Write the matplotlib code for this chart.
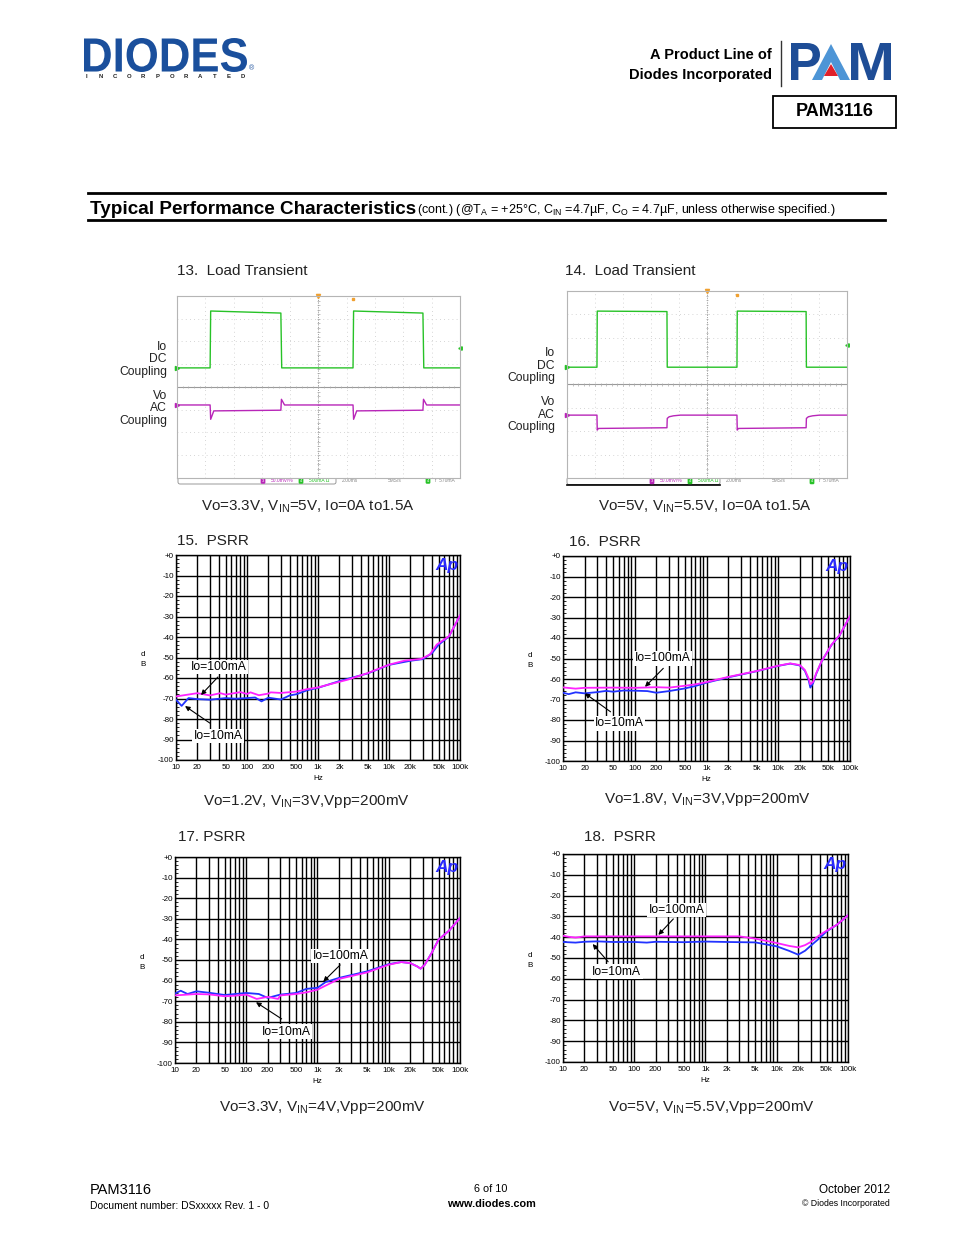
#!/usr/bin/env python3
"""PAM3116 datasheet page 6: load transient and PSRR curves"""
import numpy as np
import matplotlib
matplotlib.use('Agg')
import matplotlib.pyplot as plt
from matplotlib.textpath import TextPath
from matplotlib.patches import PathPatch, Polygon, FancyBboxPatch
from matplotlib.transforms import Affine2D
from matplotlib.font_manager import FontProperties
from matplotlib.ticker import LogLocator, MultipleLocator, NullFormatter

W, H = 954, 1235

plt.rcParams['font.family'] = ['Liberation Sans', 'DejaVu Sans']
plt.rcParams['mathtext.fontset'] = 'custom'
plt.rcParams['mathtext.rm'] = 'Liberation Sans'
plt.rcParams['mathtext.bf'] = 'Liberation Sans:bold'
plt.rcParams['mathtext.default'] = 'regular'

# ---- scope traces (time in divisions, level in divisions) ----
io13_t = [0, 1.17, 1.19, 3.67, 3.70, 6.22, 6.24, 8.69, 8.72, 10]
io13_v = [4.84, 4.84, 7.34, 7.25, 4.84, 4.84, 7.34, 7.25, 4.84, 4.84]
vo13_t = [0, 1.17, 1.19, 1.30, 3.67, 3.69, 3.80, 6.22, 6.24, 6.35,
          8.69, 8.71, 8.82, 10]
vo13_v = [3.21, 3.21, 2.58, 2.95, 2.98, 3.46, 3.21, 3.21, 2.58, 2.95,
          2.98, 3.46, 3.21, 3.21]

io14_t = [0, 1.07, 1.08, 3.57, 3.58, 6.07, 6.08, 8.54, 8.55, 10]
io14_v = [4.74, 4.74, 7.14, 7.12, 4.74, 4.74, 7.14, 7.12, 4.74, 4.74]
vo14_t = [0, 1.07, 1.08, 1.12, 3.57, 3.58, 3.65, 3.80, 4.05, 6.07, 6.08,
          6.12, 8.54, 8.55, 8.62, 8.77, 9.02, 10]
vo14_v = [2.69, 2.69, 2.05, 2.12, 2.15, 2.55, 2.62, 2.66, 2.69, 2.69, 2.05,
          2.12, 2.15, 2.55, 2.62, 2.66, 2.69, 2.69]

# ---- PSRR curves (Hz, dB) ----
f15_m = [10, 20, 30, 42, 50, 81, 100, 112, 147, 200, 216, 300, 500, 710,
         1000, 1530, 2630, 5000, 10000, 16700, 28500, 37700, 47000, 70000,
         100000]
db15_m = [-69.0, -67.4, -68.5, -67.4, -68.1, -66.9, -67.8, -67.0, -68.4,
          -67.6, -67.0, -67.3, -66.6, -65.4, -64.6, -62.9, -60.8, -57.6,
          -53.5, -51.5, -50.7, -48.5, -43.7, -39.6, -29.5]
f15_b = [10, 12, 15, 20, 30, 50, 70, 100, 130, 160, 200, 300, 400, 500, 700,
         1000, 2000, 5000, 10000, 20000, 30000, 40000, 50000, 70000, 100000]
db15_b = [-70.6, -73.6, -69.8, -70.3, -70.6, -69.8, -70.1, -69.8, -69.5,
          -71.4, -69.6, -70.5, -68.5, -67.9, -66.0, -64.8, -61.5, -57.8,
          -53.6, -51.6, -50.8, -48.0, -43.8, -39.7, -29.6]

f16_m = [10, 15, 20, 50, 100, 200, 300, 500, 700, 1000, 2000, 5000, 10000,
         14700, 20000, 23500, 26500, 28000, 30600, 33800, 40000, 55000,
         72000, 100000]
db16_m = [-64.1, -64.7, -64.3, -64.2, -64.3, -64.0, -64.2, -63.3, -62.6,
          -61.5, -59.0, -56.1, -53.5, -52.4, -53.2, -55.6, -59.7, -62.6,
          -61.4, -57.2, -51.5, -43.4, -38.5, -29.3]
f16_b = [10, 12, 15, 20, 30, 40, 50, 70, 100, 150, 200, 300, 500, 700, 1000,
         2000, 5000, 10000, 14700, 20000, 23500, 26500, 28000, 30600, 33800,
         40000, 55000, 72000, 100000]
db16_b = [-66.7, -67.4, -66.5, -67.0, -66.4, -65.8, -66.2, -65.6, -65.7,
          -65.9, -66.7, -65.9, -64.6, -63.4, -61.8, -59.2, -56.2, -53.6,
          -52.5, -53.4, -56.0, -60.5, -64.2, -62.0, -57.5, -51.6, -43.5,
          -38.6, -29.4]

f17_m = [10, 20, 30, 50, 70, 100, 140, 200, 280, 300, 500, 700, 1000, 2000,
         5000, 10000, 15000, 20000, 25000, 28000, 32000, 40000, 50000, 70000,
         100000]
db17_m = [-67.2, -66.5, -66.7, -67.6, -67.3, -66.8, -68.9, -67.9, -68.9,
          -67.2, -66.5, -65.7, -64.4, -59.2, -56.0, -52.3, -51.0, -51.5,
          -53.1, -54.2, -52.3, -46.6, -40.1, -35.8, -29.6]
f17_b = [10, 12, 15, 20, 30, 50, 70, 100, 150, 200, 300, 500, 700, 1000, 1300,
         2000, 5000, 10000, 15000, 20000, 25000, 28000, 32000, 40000, 50000,
         70000, 100000]
db17_b = [-66.3, -64.9, -66.5, -65.2, -65.9, -67.0, -66.5, -66.0, -66.5,
          -68.4, -66.8, -66.0, -64.0, -63.5, -60.7, -58.7, -55.5, -52.0,
          -51.0, -51.5, -53.1, -54.2, -52.3, -46.6, -40.1, -35.8, -29.6]

f18_m = [10, 12, 15, 20, 50, 100, 200, 500, 1000, 3000, 5000, 10000, 15000,
         20000, 25000, 30000, 40000, 50000, 70000, 100000]
db18_m = [-39.3, -39.8, -40.2, -39.6, -39.6, -39.6, -39.6, -39.6, -39.6,
          -39.6, -40.7, -42.8, -44.2, -44.9, -43.8, -42.3, -39.0, -36.9,
          -34.0, -29.5]
f18_b = [10, 15, 20, 30, 50, 100, 150, 200, 500, 1000, 2000, 5000, 10000,
         15000, 20000, 25000, 30000, 40000, 50000, 70000, 100000]
db18_b = [-42.3, -42.6, -42.2, -42.0, -42.3, -42.3, -42.6, -42.2, -42.4,
          -42.1, -42.3, -42.5, -44.4, -46.6, -48.4, -46.5, -44.1, -40.4,
          -37.2, -34.0, -29.5]

hz_ticks = [10, 20, 50, 100, 200, 500, 1e3, 2e3, 5e3, 1e4, 2e4, 5e4, 1e5]
hz_labels = ['10', '20', '50', '100', '200', '500', '1k', '2k', '5k', '10k',
             '20k', '50k', '100k']
db_ticks = list(range(-100, 1, 10))
db_labels = ['-100', '-90', '-80', '-70', '-60', '-50', '-40', '-30', '-20',
             '-10', '+0']

GREEN = '#27c227'
PURPLE = '#b826b8'
PSRR_M = '#ff22ff'
PSRR_B = '#2233ff'
DBLUE = '#1a4f9c'


def px(x0, y0, x1, y1):
    """Pixel box (y down) to figure fraction rectangle"""
    return [x0 / W, 1 - y1 / H, (x1 - x0) / W, (y1 - y0) / H]


fig = plt.figure(figsize=(W / 100, H / 100), dpi=100)
page = fig.add_axes([0, 0, 1, 1])
page.set_xlim(0, W)
page.set_ylim(H, 0)
page.axis('off')


def glyph(s, box, color):
    """Draw a text string stretched to fill a pixel box"""
    tp = TextPath((0, 0), s, size=100,
                  prop=FontProperties(family='Liberation Sans',
                                      weight='bold'))
    ext = tp.get_extents()
    x0, y0, x1, y1 = box
    tr = (Affine2D().translate(-ext.x0, -ext.y0)
          .scale((x1 - x0) / ext.width, -(y1 - y0) / ext.height)
          .translate(x0, y1))
    page.add_patch(PathPatch(tr.transform_path(tp), fc=color, ec='none'))


# ---- header ----
glyph('DIODES', (84, 38, 247, 72), DBLUE)
for x, ch in zip(np.linspace(86, 243, 12), 'INCORPORATED'):
    page.text(x, 77, ch, fontsize=4.3, fontweight='bold', color='#222222',
              ha='center', va='center')
page.text(249, 69, '®', fontsize=5, color=DBLUE, va='center')

page.text(772, 55, 'A Product Line of', fontsize=10.5, fontweight='bold',
          ha='right', va='center')
page.text(772, 75, 'Diodes Incorporated', fontsize=10.5, fontweight='bold',
          ha='right', va='center')
page.plot([781, 781], [41, 86], color='#333333', lw=1)
glyph('P', (791, 43, 820, 80), '#1e4d96')
page.add_patch(Polygon([(812, 80), (831, 44), (850, 80), (840, 80),
                        (831, 62), (822, 80)], fc='#4d95d6', ec='none'))
page.add_patch(Polygon([(824, 76), (831, 64), (838, 76)], fc='#e0202a',
                       ec='none'))
glyph('M', (851, 43, 891, 80), '#1e4d96')
page.add_patch(FancyBboxPatch((773, 96), 123, 32, boxstyle='square,pad=0',
                              fc='white', ec='black', lw=1.3))
page.text(834.5, 112, 'PAM3116', fontsize=13, fontweight='bold',
          ha='center', va='center')

page.plot([88, 885], [193, 193], color='black', lw=2)
page.plot([88, 885], [220, 220], color='black', lw=2)
page.text(90, 213.5, 'Typical Performance Characteristics', fontsize=13.6,
          fontweight='bold', va='baseline')
page.text(417, 213.5, '(cont.) (@T$_A$ = +25°C, C$_{IN}$ =4.7µF, '
          'C$_O$ = 4.7µF, unless otherwise specified.)', fontsize=9,
          va='baseline')


# ---- scope screenshots ----
def scope(box, io_t, io_v, vo_t, vo_v):
    ax = fig.add_axes(px(*box))
    ax.set_xlim(0, 10)
    ax.set_ylim(0, 8)
    ax.set_xticks([])
    ax.set_yticks([])
    for s in ax.spines.values():
        s.set_color('#b5b5b5')
        s.set_linewidth(0.8)
    for xv in range(1, 10):
        ax.axvline(xv, color='#c8c8c8', lw=0.6, ls=(0, (1, 4)))
    for yv in range(1, 8):
        ax.axhline(yv, color='#c8c8c8', lw=0.6, ls=(0, (1, 4)))
    ax.axvline(5, color='#9a9a9a', lw=0.7, ls=(0, (1, 1.5)))
    ax.axhline(4, color='#9a9a9a', lw=0.8)
    ax.vlines(np.arange(0.2, 10, 0.2), 3.95, 4.05, color='#aaaaaa', lw=0.5)
    ax.hlines(np.arange(0.2, 8, 0.2), 4.95, 5.05, color='#aaaaaa', lw=0.5)
    ax.plot(io_t, io_v, color=GREEN, lw=1.0)
    ax.plot(vo_t, vo_v, color=PURPLE, lw=1.0)
    ax.plot([0], [io_v[0]], marker='>', ms=3, color=GREEN, clip_on=False)
    ax.plot([0], [vo_v[0]], marker='>', ms=3, color=PURPLE, clip_on=False)
    ax.plot([5], [8], marker='v', ms=3, color='#f0a030', clip_on=False)
    ax.plot([io_t[5]], [7.85], marker='s', ms=2, color='#f0a030')
    ax.plot([10], [5.7], marker='<', ms=2.5, color=GREEN, clip_on=False)
    return ax


def status_bar(x0, y, w):
    page.add_patch(FancyBboxPatch((x0, y - 3.5), w, 7,
                                  boxstyle='round,pad=0,rounding_size=2',
                                  fc='white', ec='#8a8a8a', lw=0.6))
    page.text(x0 + 85, y, '3', fontsize=3, color='white', ha='center',
              va='center', bbox=dict(boxstyle='round,pad=0.3', fc=PURPLE,
                                     ec='none'))
    page.text(x0 + 93, y, '50.0mV/%', fontsize=3.5, color=PURPLE,
              va='center')
    page.text(x0 + 123, y, '4', fontsize=3, color='white', ha='center',
              va='center', bbox=dict(boxstyle='round,pad=0.3', fc=GREEN,
                                     ec='none'))
    page.text(x0 + 131, y, '500mA Ω', fontsize=3.5, color=GREEN,
              va='center')
    page.text(x0 + w + 6, y, '2.00ms', fontsize=3.5, color='#888888',
              va='center')
    page.text(x0 + w + 52, y, '5MS/s', fontsize=3.5, color='#888888',
              va='center')
    page.text(x0 + w + 92, y, '4', fontsize=3, color='white', ha='center',
              va='center', bbox=dict(boxstyle='round,pad=0.3', fc=GREEN,
                                     ec='none'))
    page.text(x0 + w + 99, y, 'f  570mA', fontsize=3.5, color='#888888',
              va='center')


scope((177, 296, 460, 478), io13_t, io13_v, vo13_t, vo13_v)
status_bar(178, 480.5, 158)
scope((567, 291, 847, 478), io14_t, io14_v, vo14_t, vo14_v)
status_bar(567, 481, 153)
page.plot([567, 720], [485, 485], color='black', lw=1.2)

page.text(177, 271, '13.  Load Transient', fontsize=11, va='center',
          color='#222222')
page.text(565, 271, '14.  Load Transient', fontsize=11, va='center',
          color='#222222')
for x, ys in ((167, (347, 359, 372, 396, 408, 421)),
              (555, (353, 366, 378, 402, 415, 427))):
    for y, s in zip(ys, ('Io', 'DC', 'Coupling', 'Vo', 'AC', 'Coupling')):
        page.text(x, y, s, fontsize=8.7, ha='right', va='center',
                  color='#222222')
page.text(308, 507, 'Vo=3.3V, V$_{IN}$=5V, Io=0A to1.5A', fontsize=10.9,
          ha='center', va='center', color='#222222')
page.text(705, 507, 'Vo=5V, V$_{IN}$=5.5V, Io=0A to1.5A', fontsize=10.9,
          ha='center', va='center', color='#222222')


# ---- PSRR plots ----
def psrr(box, fm, dbm, fb, dbb, ann100, ann10):
    ax = fig.add_axes(px(*box))
    ax.semilogx(fb, dbb, color=PSRR_B, lw=1.3, zorder=3)
    ax.semilogx(fm, dbm, color=PSRR_M, lw=1.3, zorder=4)
    ax.set_xlim(10, 1e5)
    ax.set_ylim(-100, 0)
    ax.set_xticks(hz_ticks)
    ax.set_xticklabels(hz_labels, fontsize=5.8)
    ax.xaxis.set_minor_locator(LogLocator(base=10, subs=np.arange(2, 10),
                                          numticks=20))
    ax.xaxis.set_minor_formatter(NullFormatter())
    ax.set_yticks(db_ticks)
    ax.set_yticklabels(db_labels, fontsize=5.8)
    ax.yaxis.set_minor_locator(MultipleLocator(2))
    ax.tick_params(which='both', direction='in', length=2.5, pad=3,
                   width=0.6)
    ax.tick_params(axis='y', pad=1.5)
    ax.grid(which='both', axis='x', color='black', lw=1.0)
    ax.grid(which='major', axis='y', color='black', lw=1.0)
    for s in ax.spines.values():
        s.set_linewidth(1.0)
    ax.set_xlabel('Hz', fontsize=5.8, labelpad=3)
    ax.text(-0.115, 0.49, 'd\nB', transform=ax.transAxes, fontsize=5.8,
            ha='center', va='center', linespacing=1.6)
    ax.text(0.995, 0.985, 'Ap', transform=ax.transAxes, fontsize=12.5,
            fontweight='bold', fontstyle='italic', color='#2a2aff',
            ha='right', va='top', zorder=6)
    for label, (txy, tail, head) in (('Io=100mA', ann100),
                                     ('Io=10mA', ann10)):
        ax.annotate('', xy=head, xytext=tail, zorder=6,
                    arrowprops=dict(arrowstyle='-|>', color='black', lw=0.8,
                                    mutation_scale=7, shrinkA=0, shrinkB=0))
        ax.text(txy[0], txy[1], label, fontsize=8.7, ha='center',
                va='center', zorder=5,
                bbox=dict(fc='white', ec='none', pad=1.0))
    return ax


psrr((176, 555, 460, 760), f15_m, db15_m, f15_b, db15_b,
     ((40, -54.6), (39, -59.5), (22.5, -68.3)),
     ((39, -88.3), (30, -82), (13.4, -73.7)))
psrr((563, 556, 850, 761), f16_m, db16_m, f16_b, db16_b,
     ((245, -49.9), (250, -54.8), (139, -63.8)),
     ((61, -81.6), (46, -76), (20.2, -67)))
psrr((175, 857, 460, 1063), f17_m, db17_m, f17_b, db17_b,
     ((2117, -48.1), (2080, -52.4), (1205, -60.5)),
     ((369, -84.8), (314, -78.6), (137, -70.5)))
psrr((563, 854, 848, 1062), f18_m, db18_m, f18_b, db18_b,
     ((394, -26.9), (354, -31.2), (218, -38.9)),
     ((57, -56.6), (43, -51.8), (26.1, -43.3)))

for x, y, s in ((177, 541, '15.  PSRR'), (569, 542, '16.  PSRR'),
                (178, 837, '17. PSRR'), (584, 837, '18.  PSRR')):
    page.text(x, y, s, fontsize=11, va='center', color='#222222')
for x, y, s in ((306, 801, 'Vo=1.2V, V$_{IN}$=3V,Vpp=200mV'),
                (707, 800, 'Vo=1.8V, V$_{IN}$=3V,Vpp=200mV'),
                (322, 1108, 'Vo=3.3V, V$_{IN}$=4V,Vpp=200mV'),
                (711, 1107, 'Vo=5V, V$_{IN}$=5.5V,Vpp=200mV')):
    page.text(x, y, s, fontsize=11, ha='center', va='center',
              color='#222222')

# ---- footer ----
page.text(90, 1190, 'PAM3116', fontsize=10.5, va='center')
page.text(90, 1206, 'Document number: DSxxxxx Rev. 1 - 0', fontsize=7.5,
          va='center')
page.text(491, 1189, '6 of 10', fontsize=7.8, ha='center', va='center')
page.text(491, 1204, 'www.diodes.com', fontsize=7.8, fontweight='bold',
          ha='center', va='center')
page.text(890, 1190, 'October 2012', fontsize=8.5, ha='right', va='center')
page.text(890, 1204, '© Diodes Incorporated', fontsize=6.3, ha='right',
          va='center')

fig.savefig('out.png', dpi=100)
